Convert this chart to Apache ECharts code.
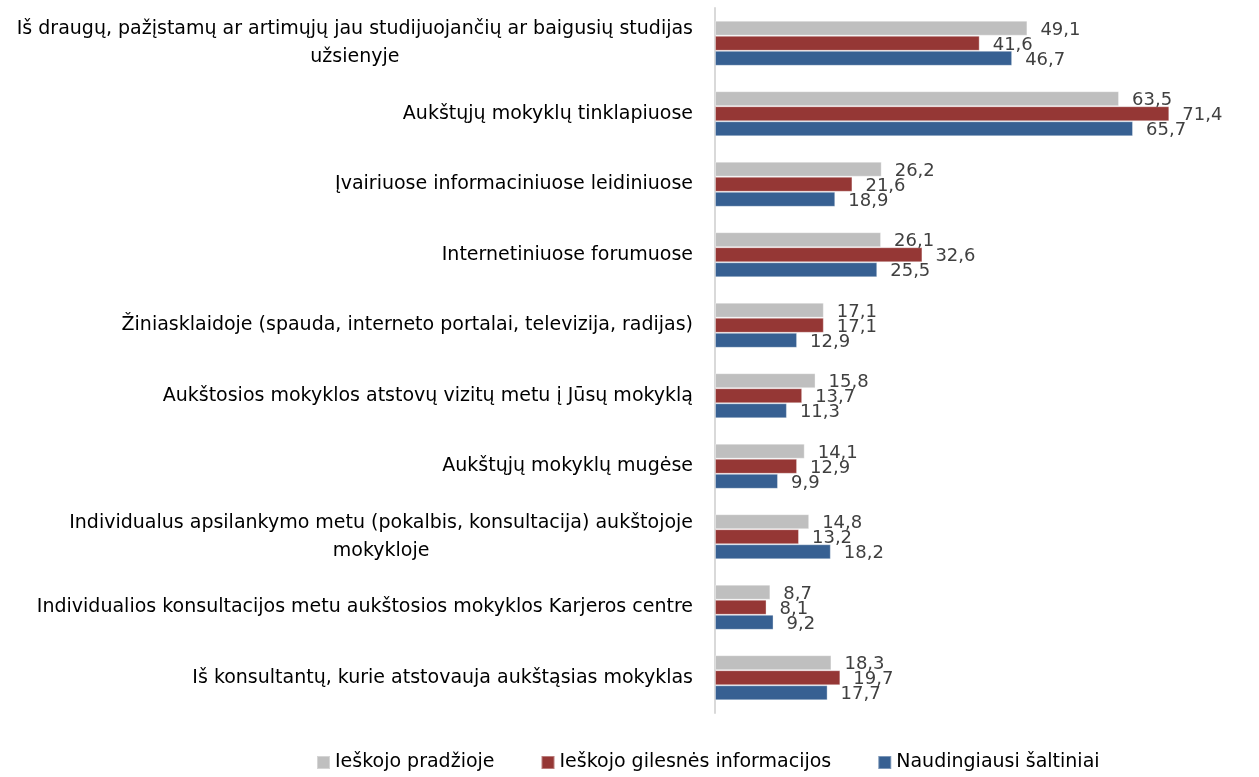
<!DOCTYPE html>
<html>
<head>
<meta charset="utf-8">
<script src="https://cdn.jsdelivr.net/npm/echarts@6/dist/echarts.min.js"></script>
<style>
  html, body { margin: 0; padding: 0; background: #fff; }
  #chart { width: 1259px; height: 777px; }
</style>
</head>
<body>
<div id="chart"></div>
<script>
var categories = [
    'Iš draugų, pažįstamų ar artimųjų jau studijuojančių ar baigusių studijas\nužsienyje',
    'Aukštųjų mokyklų tinklapiuose',
    'Įvairiuose informaciniuose leidiniuose',
    'Internetiniuose forumuose',
    'Žiniasklaidoje (spauda, interneto portalai, televizija, radijas)',
    'Aukštosios mokyklos atstovų vizitų metu į Jūsų mokyklą',
    'Aukštųjų mokyklų mugėse',
    'Individualus apsilankymo metu (pokalbis, konsultacija) aukštojoje\nmokykloje',
    'Individualios konsultacijos metu aukštosios mokyklos Karjeros centre',
    'Iš konsultantų, kurie atstovauja aukštąsias mokyklas'
];
var seriesNames = ['Ieškojo pradžioje', 'Ieškojo gilesnės informacijos', 'Naudingiausi šaltiniai'];
var pradzioje = [49.1, 63.5, 26.2, 26.1, 17.1, 15.8, 14.1, 14.8, 8.7, 18.3];
var gilesnes = [41.6, 71.4, 21.6, 32.6, 17.1, 13.7, 12.9, 13.2, 8.1, 19.7];
var naudingiausi = [46.7, 65.7, 18.9, 25.5, 12.9, 11.3, 9.9, 18.2, 9.2, 17.7];
var colors = ['#BFBFBF', '#953735', '#376092'];

var FONT = '"DejaVu Sans"';
var LABEL_SIZE = 19;

var myChart = echarts.init(document.getElementById('chart'));

function makeSeries(name, data, color) {
    return {
        name: name,
        type: 'bar',
        data: data,
        barGap: '0%',
        barCategoryGap: '36%',
        itemStyle: {
            color: color,
            borderColor: 'rgba(255,255,255,0.35)',
            borderWidth: 1
        },
        label: {
            show: true,
            position: 'right',
            distance: 13,
            color: '#404040',
            fontFamily: FONT,
            fontSize: 18,
            offset: [0, 2],
            formatter: function (p) {
                return String(p.value).replace('.', ',');
            }
        }
    };
}

option = {
    backgroundColor: '#fff',
    animation: false,
    grid: {
        left: 715,
        right: 35,
        top: 8,
        bottom: 64,
        containLabel: false
    },
    legend: {
        top: 753,
        left: 316,
        padding: 0,
        itemWidth: 13,
        itemHeight: 13,
        itemGap: 46,
        icon: 'rect',
        textStyle: {
            fontFamily: FONT,
            fontSize: LABEL_SIZE,
            color: '#000'
        },
        data: seriesNames
    },
    xAxis: {
        type: 'value',
        min: 0,
        max: 80,
        show: false
    },
    yAxis: {
        type: 'category',
        inverse: true,
        data: categories,
        axisLine: {
            show: true,
            lineStyle: { color: '#D9D9D9', width: 2 }
        },
        axisTick: { show: false },
        axisLabel: {
            margin: 22,
            interval: 0,
            formatter: function (v) {
                var lines = v.split('\n');
                if (lines.length === 1) return v;
                // wrapped labels: lines centred inside the right-aligned block
                return lines.map(function (l) { return '{c|' + l + '}'; }).join('\n');
            },
            rich: {
                c: {
                    align: 'center',
                    fontFamily: FONT,
                    fontSize: LABEL_SIZE,
                    color: '#000',
                    lineHeight: 28
                }
            },
            color: '#000',
            fontFamily: FONT,
            fontSize: LABEL_SIZE,
            lineHeight: 28
        }
    },
    series: [
        makeSeries(seriesNames[0], pradzioje, colors[0]),
        makeSeries(seriesNames[1], gilesnes, colors[1]),
        makeSeries(seriesNames[2], naudingiausi, colors[2])
    ]
};

myChart.setOption(option);
window.addEventListener("resize", function () {
    myChart.resize();
});
</script>
</body>
</html>
